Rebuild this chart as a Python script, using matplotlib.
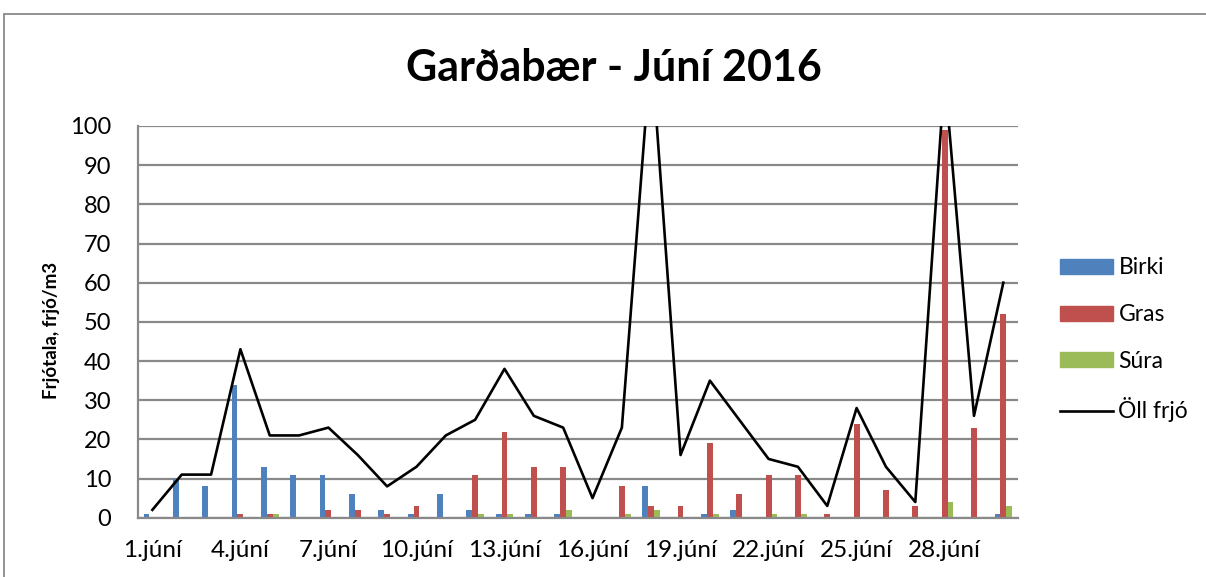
import numpy as np
import matplotlib
matplotlib.use('Agg')
import matplotlib.pyplot as plt
from matplotlib.patches import Rectangle, Patch
from matplotlib.lines import Line2D

plt.rcParams['font.family'] = ['Lato', 'DejaVu Sans']

# data (1. - 30. júní)
days = [str(d) + '.júní' for d in range(1, 31)]
birki = [1, 10, 8, 34, 13, 11, 11, 6, 2, 1, 6, 2, 1, 1, 1, 0, 0, 8, 0, 1, 2, 0, 0, 0, 0, 0, 0, 0, 0, 1]
gras = [0, 0, 0, 1, 1, 0, 2, 2, 1, 3, 0, 11, 22, 13, 13, 0, 8, 3, 3, 19, 6, 11, 11, 1, 24, 7, 3, 99, 23, 52]
sura = [0, 0, 0, 0, 1, 0, 0, 0, 0, 0, 0, 1, 1, 0, 2, 0, 1, 2, 0, 1, 0, 1, 1, 0, 0, 0, 0, 4, 0, 3]
oll_frjo = [2, 11, 11, 43, 21, 21, 23, 16, 8, 13, 21, 25, 38, 26, 23, 5, 23, 120, 16, 35,
            25, 15, 13, 3, 28, 13, 4, 113, 26, 60]

c_birki = '#4F81BD'
c_gras = '#C0504D'
c_sura = '#9BBB59'
grid_c = '#898989'

W, H = 1206, 577
fig = plt.figure(figsize=(W / 100, H / 100), dpi=100)

# outer chart border
fig.patches.append(Rectangle((4 / W, -0.1), 1.2, 1 - 14 / H + 0.1, transform=fig.transFigure,
                             fill=False, edgecolor=grid_c, linewidth=1.3))

ax = fig.add_axes([137.7 / W, 1 - 517.7 / H, (1018 - 137.7) / W, (517.7 - 126) / H])

x = np.arange(len(days))
bw = 0.2
ax.bar(x - bw, birki, bw, color=c_birki, zorder=2)
ax.bar(x, gras, bw, color=c_gras, zorder=2)
ax.bar(x + bw, sura, bw, color=c_sura, zorder=2)
ax.plot(x, oll_frjo, color='black', linewidth=1.9, zorder=3)

ax.set_xlim(-0.5, len(days) - 0.5)
ax.set_ylim(0, 100)
ax.set_yticks(range(0, 101, 10))
ax.set_xticks(x[::3])
ax.set_xticklabels(days[::3])
ax.tick_params(axis='both', length=0, labelsize=17)
ax.tick_params(axis='x', labelsize=17.5, pad=16)
ax.tick_params(axis='y', pad=19)

ax.set_axisbelow(True)
ax.yaxis.grid(True, color=grid_c, linewidth=1.6)
for s in ['top', 'right']:
    ax.spines[s].set_visible(False)
for s in ['left', 'bottom']:
    ax.spines[s].set_color(grid_c)
    ax.spines[s].set_linewidth(1.6)

fig.text(614 / W, 1 - 68 / H, 'Garðabær - Júní 2016', ha='center', va='center',
         fontsize=31, fontweight='bold')
fig.text(52 / W, 1 - 330 / H, 'Frjótala, frjó/m3', rotation=90, ha='center', va='center',
         fontsize=13.5, fontweight='bold')

handles = [Patch(color=c_birki), Patch(color=c_gras), Patch(color=c_sura),
           Line2D([], [], color='black', linewidth=1.9)]
fig.legend(handles, ['Birki', 'Gras', 'Súra', 'Öll frjó'], loc='center left',
           bbox_to_anchor=(1060 / W, 1 - 340 / H), frameon=False, fontsize=16.5,
           handlelength=2.3, handleheight=0.62, handletextpad=0.25, labelspacing=1.12,
           borderpad=0, borderaxespad=0)

fig.savefig('out.png', dpi=100)
